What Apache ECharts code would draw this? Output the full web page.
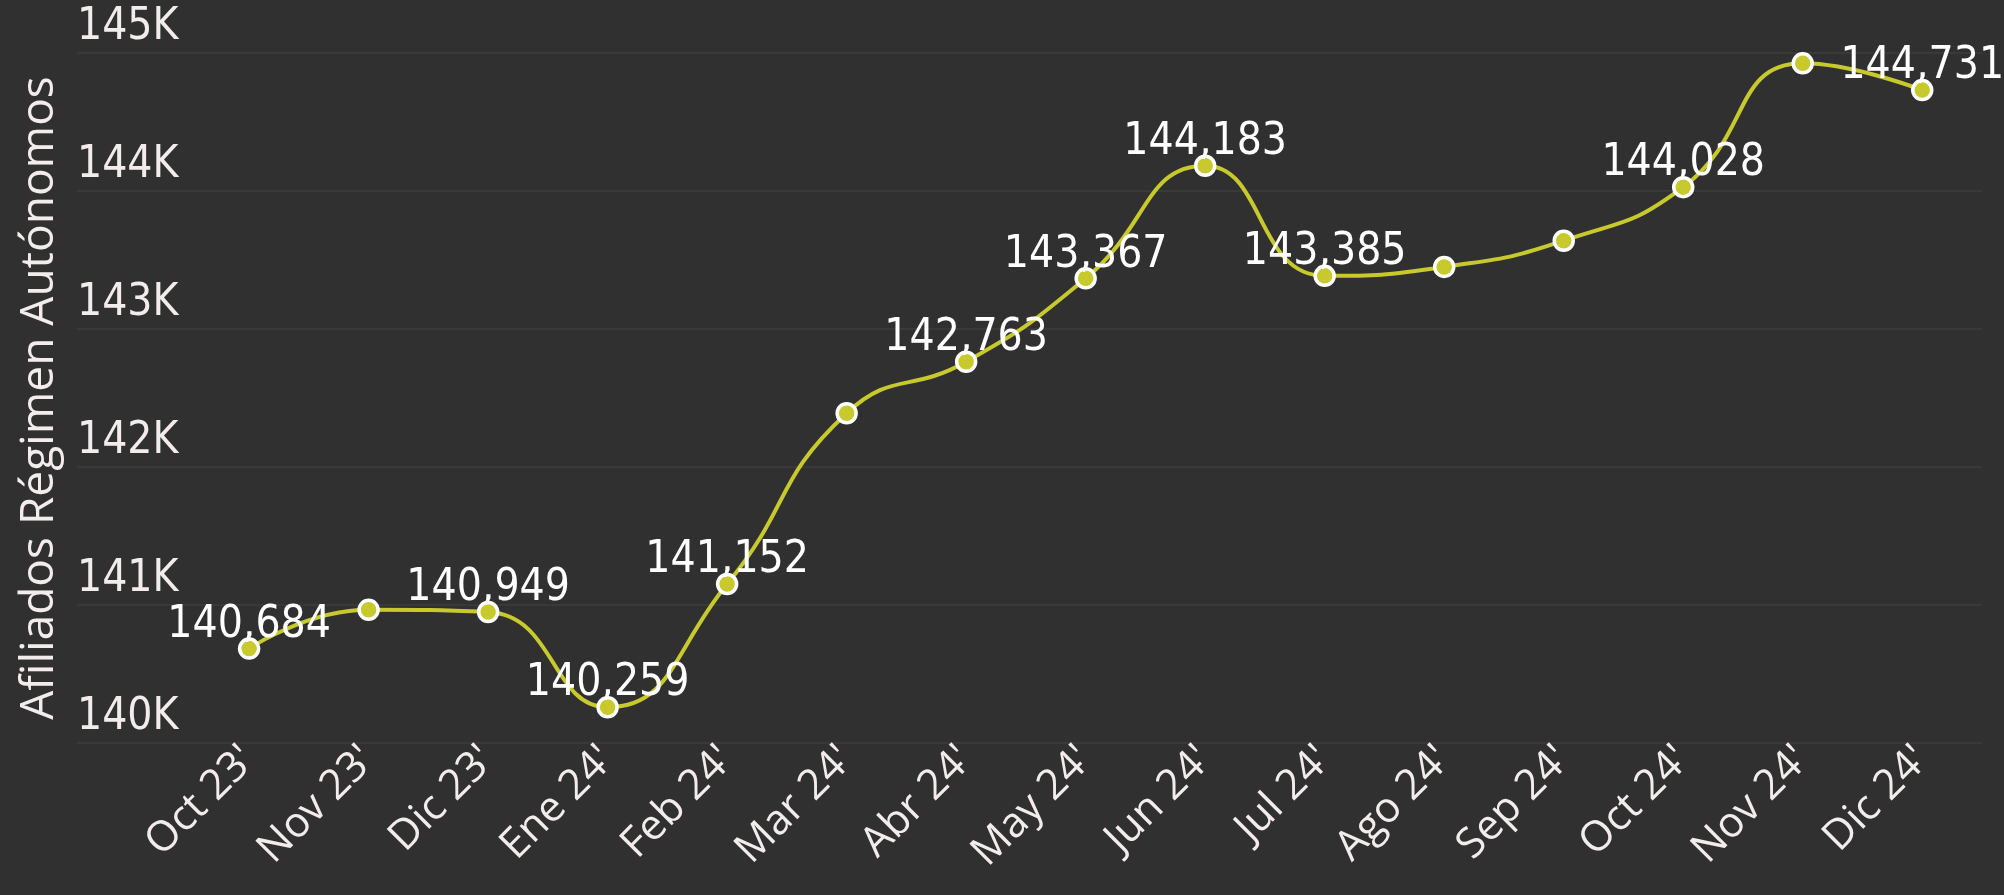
<!DOCTYPE html>
<html>
<head>
<meta charset="utf-8">
<script src="https://cdn.jsdelivr.net/npm/echarts@6/dist/echarts.min.js"></script>
<style>
  html, body { margin: 0; padding: 0; background: #303030; }
  #chart { width: 2004px; height: 895px; }
</style>
</head>
<body>
<div id="chart"></div>
<script>
// meses
const months = ["Oct 23'", "Nov 23'", "Dic 23'", "Ene 24'", "Feb 24'", "Mar 24'", "Abr 24'", "May 24'",
  "Jun 24'", "Jul 24'", "Ago 24'", "Sep 24'", "Oct 24'", "Nov 24'", "Dic 24'"]
// afiliados
const afiliados = [140684, 140965, 140949, 140259, 141152, 142390, 142763, 143367,
  144183, 143385, 143450, 143640, 144028, 144925, 144731]
// etiquetas visibles
const labelShown = [1, 0, 1, 1, 1, 0, 1, 1, 1, 1, 0, 0, 1, 0, 1]
const yTicks = [140000, 141000, 142000, 143000, 144000, 145000]

const textColor = '#F3ECEC'
const lineColor = '#C8C92D'

const fmt = (v) => v.toString().replace(/\B(?=(\d{3})+(?!\d))/g, ',')

const seriesData = afiliados.map((v, i) => ({
  value: [i, v],
  label: { show: labelShown[i] === 1 }
}))

const chart = echarts.init(document.getElementById('chart'))
chart.setOption({
  backgroundColor: '#303030',
  animation: false,
  grid: { left: 77, right: 22, top: 53, bottom: 152, containLabel: false },
  xAxis: {
    type: 'value',
    min: -1.44,
    max: 14.5,
    axisLine: { show: false },
    axisTick: { show: false },
    splitLine: { show: false },
    axisLabel: {
      customValues: months.map((_, i) => i),
      formatter: (v) => months[v],
      rotate: 45,
      margin: 10,
      color: textColor,
      fontFamily: 'Open Sans',
      fontSize: 42
    }
  },
  yAxis: {
    type: 'value',
    min: yTicks[0],
    max: yTicks[yTicks.length - 1],
    interval: 1000,
    name: 'Afiliados Régimen Autónomos',
    nameLocation: 'middle',
    nameGap: 14,
    nameTextStyle: { color: textColor, fontFamily: 'Open Sans', fontSize: 46 },
    axisLine: { show: false },
    axisTick: { show: false },
    splitLine: { lineStyle: { color: '#393939', width: 2 } },
    axisLabel: {
      inside: true,
      margin: 0,
      verticalAlign: 'bottom',
      lineHeight: 50,
      formatter: (v) => (v / 1000) + 'K',
      color: textColor,
      fontFamily: 'DejaVu Sans Condensed',
      fontSize: 44
    }
  },
  series: [{
    type: 'line',
    data: seriesData,
    smooth: 0.5,
    symbol: 'circle',
    symbolSize: 19,
    lineStyle: { color: lineColor, width: 4 },
    itemStyle: { color: lineColor, borderColor: '#FFFFFF', borderWidth: 3.5 },
    label: {
      position: 'top',
      distance: -10,
      color: '#FFFFFF',
      fontFamily: 'DejaVu Sans Condensed',
      fontSize: 44,
      formatter: (p) => fmt(p.value[1])
    },
    z: 3
  }]
})
</script>
</body>
</html>
